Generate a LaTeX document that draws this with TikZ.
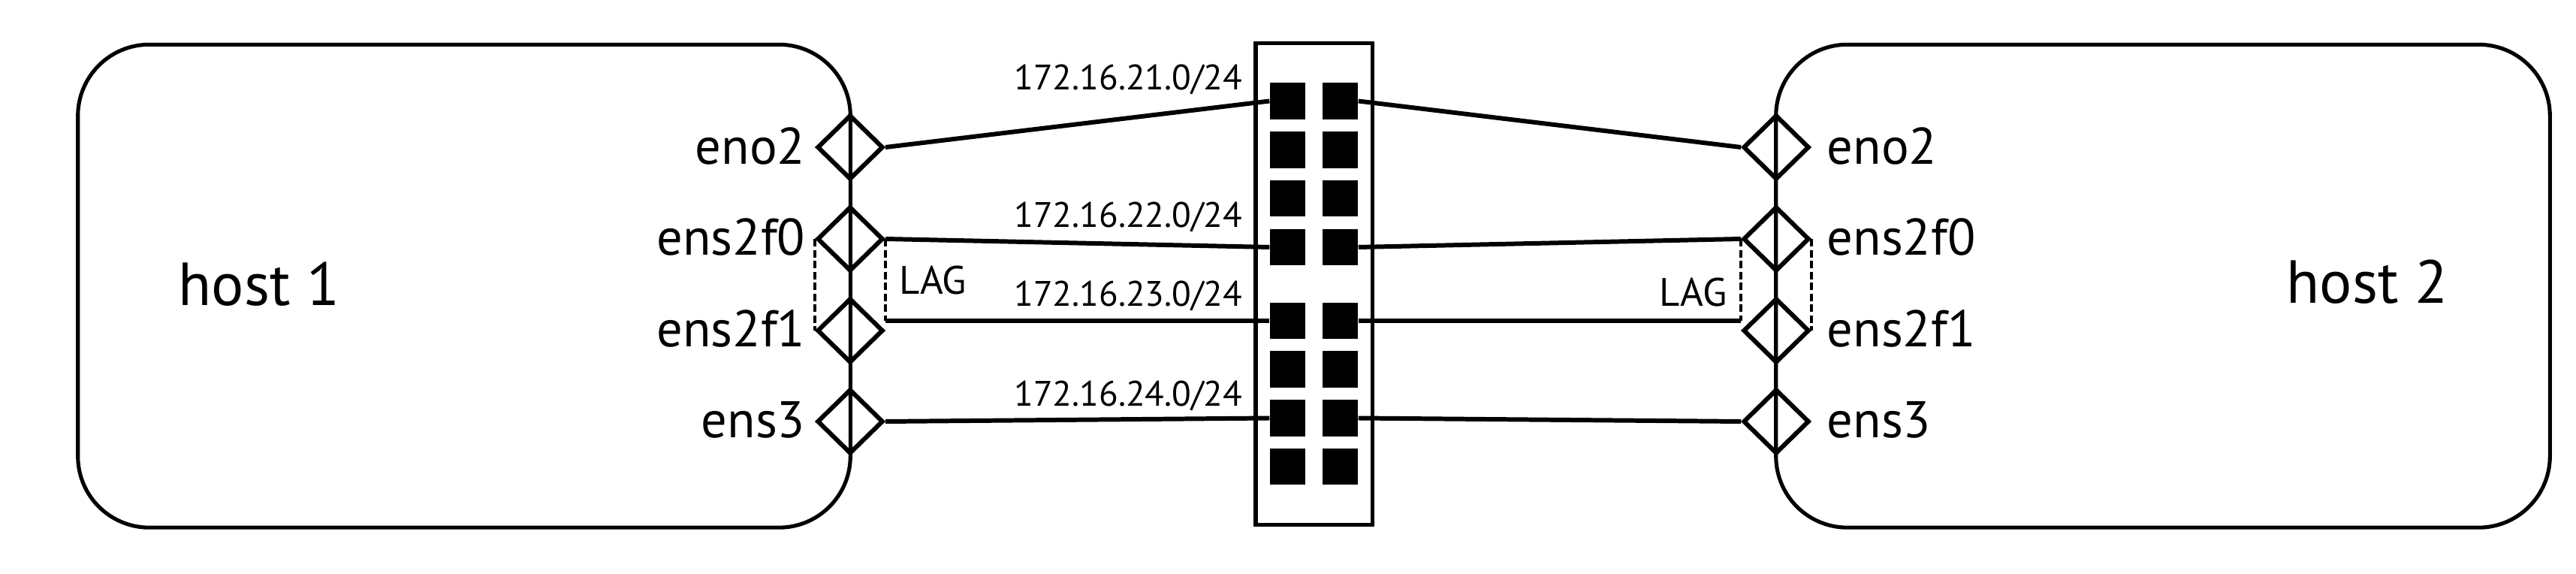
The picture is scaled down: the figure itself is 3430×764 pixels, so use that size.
\documentclass[tikz,border=0pt]{standalone}
\usepackage{fontspec}
\setmainfont{PT Sans}
\usetikzlibrary{shapes.geometric}
\begin{document}
\begin{tikzpicture}[x=0.01cm,y=-0.01cm,
  hostbox/.style={draw, line width=1.45pt, rounded corners=0.95cm, inner sep=0},
  switchbox/.style={draw, line width=1.45pt, inner sep=0, minimum width=1.55cm, minimum height=6.405cm},
  port/.style={draw, diamond, line width=1.7pt, minimum width=0.88cm, minimum height=0.86cm, inner sep=0},
  jack/.style={fill=black, minimum width=0.47cm, minimum height=0.48cm, inner sep=0},
  link/.style={line width=1.7pt},
  lag/.style={line width=1.3pt, dash pattern=on 0.1cm off 0.045cm},
  iflabel/.style={font=\fontsize{19.5}{22}\selectfont, inner sep=0},
  netlabel/.style={font=\fontsize{13.4}{15}\selectfont, inner sep=0, anchor=base east},
  laglabel/.style={font=\fontsize{15}{17}\selectfont, inner sep=0},
  hostlabel/.style={font=\fontsize{23}{26}\selectfont, inner sep=0, anchor=base west}
]
\useasboundingbox (0,0) rectangle (3430,764);

% hosts
\node[hostbox, minimum width=10.28cm, minimum height=6.425cm] (h1) at (618,380.75) {};
\node[hostbox, minimum width=10.30cm, minimum height=6.425cm] (h2) at (2880,380.75) {};
\node[hostlabel] (h1t) at (237,407) {host 1};
\node[hostlabel] (h2t) at (3044,404) {host 2};

% switch
\node[switchbox] (sw) at (1749.5,377.75) {};
\foreach \i/\y in {1/134.5,2/199.5,3/264,4/329,5/427,6/491.5,7/556.5,8/621}{
  \node[jack] (sL\i) at (1714.5,\y) {};
  \node[jack] (sR\i) at (1784.5,\y) {};
}

% host 1 ports
\node[port] (a1) at (1132,196) {};
\node[port] (a2) at (1132,318) {};
\node[port] (a3) at (1132,440) {};
\node[port] (a4) at (1132,561) {};
\node[iflabel, anchor=base east] (a1t) at (1073,219) {eno2};
\node[iflabel, anchor=base east] (a2t) at (1073,340) {ens2f0};
\node[iflabel, anchor=base east] (a3t) at (1073,462) {ens2f1};
\node[iflabel, anchor=base east] (a4t) at (1073,583) {ens3};

% host 2 ports
\node[port] (b1) at (2365,196) {};
\node[port] (b2) at (2365,318) {};
\node[port] (b3) at (2365,440) {};
\node[port] (b4) at (2365,561) {};
\node[iflabel, anchor=base west] (b1t) at (2432,219) {eno2};
\node[iflabel, anchor=base west] (b2t) at (2432,340) {ens2f0};
\node[iflabel, anchor=base west] (b3t) at (2432,462) {ens2f1};
\node[iflabel, anchor=base west] (b4t) at (2432,583) {ens3};

% LAG
\draw[lag] (a2.west) -- (a3.west);
\draw[lag] (a2.east) -- (a3.east |- sL5.west);
\draw[lag] (b2.west) -- (b3.west |- sR5.east);
\draw[lag] (b2.east) -- (b3.east);
\node[laglabel, anchor=base west] (lag1) at (1197,392) {LAG};
\node[laglabel, anchor=base east] (lag2) at (2300,408) {LAG};

% links
\draw[link] (a1.east) -- (sL1.west);
\draw[link] (a2.east) -- (sL4.west);
\draw[link] (a3.east |- sL5.west) -- (sL5.west);
\draw[link] (a4.east) -- (sL7.west);
\draw[link] (sR1.east) -- (b1.west);
\draw[link] (sR4.east) -- (b2.west);
\draw[link] (sR5.east) -- (b3.west |- sR5.east);
\draw[link] (sR7.east) -- (b4.west);

% subnet labels
\node[netlabel] (n1) at (1655,120) {172.16.21.0/24};
\node[netlabel] (n2) at (1655,303) {172.16.22.0/24};
\node[netlabel] (n3) at (1655,408) {172.16.23.0/24};
\node[netlabel] (n4) at (1655,541) {172.16.24.0/24};
\end{tikzpicture}
\end{document}
